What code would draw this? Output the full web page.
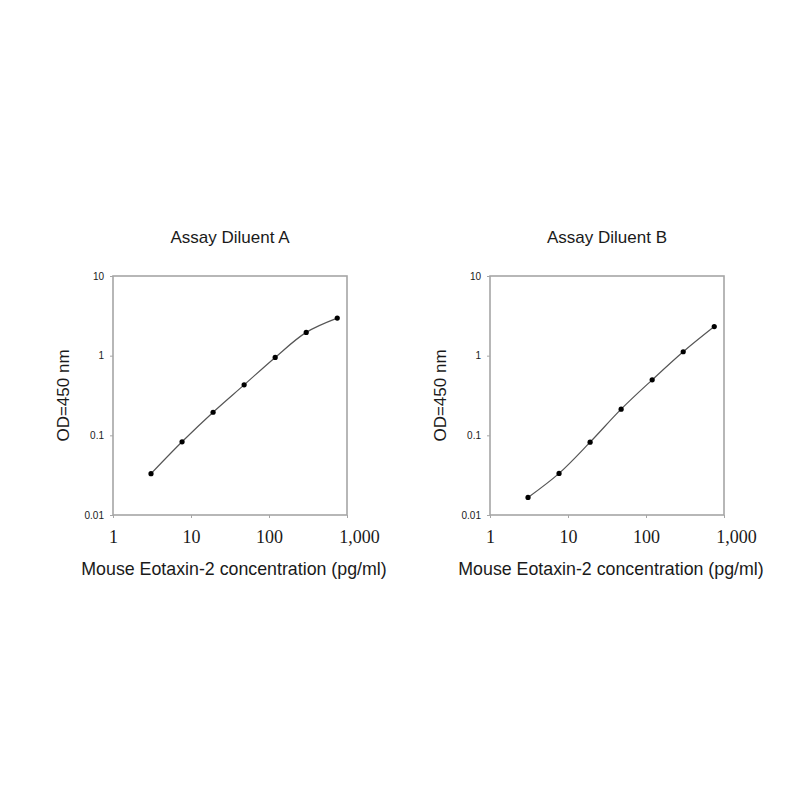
<!DOCTYPE html>
<html>
<head>
<meta charset="utf-8">
<script src="https://cdn.jsdelivr.net/npm/d3@7"></script>
<style>
	body { margin: 0; background: #fff; }
	svg { display: block; }
</style>
</head>
<body>
<div id="chart"></div>
<script>
// Standard curve values
var concentrations = [3.072, 7.68, 19.2, 48, 120, 300, 750];
var odDiluentA = [0.033, 0.083, 0.195, 0.43, 0.95, 1.96, 2.96];
var odDiluentB = [0.0166, 0.0333, 0.082, 0.213, 0.497, 1.12, 2.32];
var panelTitles = ["Assay Diluent A", "Assay Diluent B"];
var xTicks = [1, 10, 100, 1000];
var xTickLabels = ["1", "10", "100", "1,000"];
var yTicks = [0.01, 0.1, 1, 10];
var yTickLabels = ["0.01", "0.1", "1", "10"];
var xTitle = "Mouse Eotaxin-2 concentration (pg/ml)";
var yTitle = "OD=450 nm";

var width = 800,
	height = 800;

var svg = d3
	.select("#chart")
	.append("svg")
	.attr("width", width)
	.attr("height", height);

var panelLeft = [113, 490],
	panelWidth = 234,
	marginTop = 276,
	plotBottom = 515;

function drawPanel(left, title, values) {
	var g = svg.append("g");

	var x = d3
		.scaleLog()
		.domain([1, 1000])
		.range([left, left + panelWidth]);
	var y = d3
		.scaleLog()
		.domain([0.01, 10])
		.range([plotBottom, marginTop]);

	// frame
	g.append("rect")
		.attr("x", x(1))
		.attr("y", y(10))
		.attr("width", x(1000) - x(1))
		.attr("height", y(0.01) - y(10))
		.attr("fill", "none")
		.attr("stroke", "#a6a6a6")
		.attr("stroke-width", 1.6);

	// X axis
	var xAxis = g
		.append("g")
		.attr("transform", `translate(0, ${plotBottom})`)
		.call(
			d3
				.axisBottom(x)
				.tickValues(xTicks)
				.tickFormat((d, i) => xTickLabels[i])
				.tickSize(3)
				.tickSizeOuter(0)
		);
	xAxis.select(".domain").remove();
	xAxis.selectAll(".tick line").attr("stroke", "#a6a6a6");
	xAxis
		.selectAll(".tick text")
		.attr("y", 28)
		.attr("dy", 0)
		.attr("font-family", "'Liberation Serif', 'Times New Roman', serif")
		.attr("font-size", 18)
		.attr("fill", "#1a1a1a");
	// the 1,000 label sits a little right of its tick in the original
	xAxis
		.selectAll(".tick text")
		.filter((d) => d == 1000)
		.attr("dx", 12);

	// Y axis
	var yAxis = g
		.append("g")
		.attr("transform", `translate(${left}, 0)`)
		.call(
			d3
				.axisLeft(y)
				.tickValues(yTicks)
				.tickFormat((d, i) => yTickLabels[i])
				.tickSize(3)
				.tickSizeOuter(0)
		);
	yAxis.select(".domain").remove();
	yAxis.selectAll(".tick line").attr("stroke", "#a6a6a6");
	yAxis
		.selectAll(".tick text")
		.attr("x", -9)
		.attr("font-family", "'Liberation Sans', Arial, sans-serif")
		.attr("font-size", 10)
		.attr("fill", "#1a1a1a");

	// titles
	g.append("text")
		.attr("x", (x(1) + x(1000)) / 2)
		.attr("y", 243)
		.attr("text-anchor", "middle")
		.attr("font-family", "'Liberation Sans', Arial, sans-serif")
		.attr("font-size", 17)
		.attr("fill", "#1a1a1a")
		.text(title);

	g.append("text")
		.attr("x", (x(1) + x(1000)) / 2 + 4)
		.attr("y", 575)
		.attr("text-anchor", "middle")
		.attr("font-family", "'Liberation Sans', Arial, sans-serif")
		.attr("font-size", 17.8)
		.attr("fill", "#1a1a1a")
		.text(xTitle);

	g.append("text")
		.attr(
			"transform",
			`translate(${left - 44}, ${(y(0.01) + y(10)) / 2}) rotate(-90)`
		)
		.attr("text-anchor", "middle")
		.attr("font-family", "'Liberation Sans', Arial, sans-serif")
		.attr("font-size", 17)
		.attr("fill", "#1a1a1a")
		.text(yTitle);

	// curve and points
	var points = concentrations.map((c, i) => [c, values[i]]);
	g.append("path")
		.datum(points)
		.attr("fill", "none")
		.attr("stroke", "#555")
		.attr("stroke-width", 1.2)
		.attr(
			"d",
			d3
				.line()
				.x((d) => x(d[0]))
				.y((d) => y(d[1]))
				.curve(d3.curveCatmullRom)
		);

	g.selectAll("circle")
		.data(points)
		.enter()
		.append("circle")
		.attr("cx", (d) => x(d[0]))
		.attr("cy", (d) => y(d[1]))
		.attr("r", 2.6)
		.attr("fill", "#000");
}

drawPanel(panelLeft[0], panelTitles[0], odDiluentA);
drawPanel(panelLeft[1], panelTitles[1], odDiluentB);
</script>
</body>
</html>
